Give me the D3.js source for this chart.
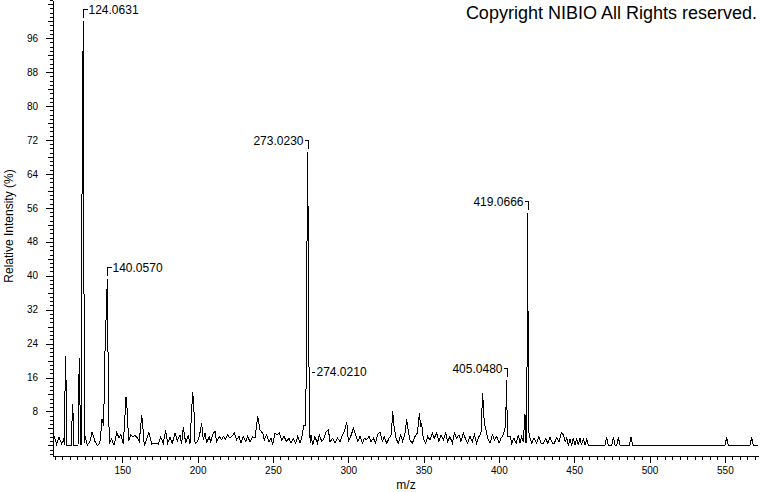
<!DOCTYPE html>
<html lang="en">

<head>
  <meta charset="UTF-8">
  <script src="https://d3js.org/d3.v7.min.js"></script>
  <title>Mass spectrum</title>
  <style>
    body { margin: 0; background: #fff; }
    text { font-family: Arial, "Liberation Sans", sans-serif; }
  </style>
</head>

<body>
  <svg width="760" height="492"></svg>
</body>
<script>
  // profile spectrum (m/z, relative intensity %)
  const mz = [
    104.2, 104.9, 106.4, 108.0, 109.8, 110.9, 111.7, 112.0, 112.4, 112.7, 113.0,
    116.3, 116.7, 117.1, 117.4, 117.8, 120.6, 121.1, 121.5, 121.8, 122.2, 122.6,
    123.1, 124.06, 124.35, 124.6, 125.0,
    125.4, 126.8, 128.6, 130.0, 131.8, 133.3, 134.6, 135.5, 136.5, 137.6, 138.5,
    140.06, 140.35, 140.7, 141.4, 143.0, 144.5, 146.3, 147.8, 149.1, 150.7, 152.5,
    153.2, 154.2, 155.6, 156.9, 158.4, 160.0, 161.3, 162.9, 163.5, 164.6, 166.2,
    167.7, 169.5, 171.0, 173.9, 175.5, 177.2, 178.8, 180.1, 181.7, 183.2, 185.0,
    186.5, 188.3, 189.4, 190.5, 192.1, 193.8, 194.9, 196.7, 197.4, 198.3,
    199.8, 201.1, 202.7, 203.8, 204.9, 206.0, 207.6, 208.7, 210.0, 211.5, 212.6,
    214.4, 216.0, 217.1, 218.6, 220.0, 221.5, 223.0, 224.4, 225.9, 227.5, 228.8,
    230.3, 231.9, 233.2, 234.8, 236.5, 238.1, 239.9, 241.4, 243.2, 244.3, 245.8,
    247.4, 248.7, 249.8, 251.4, 252.9, 254.2, 255.8, 257.3, 259.1, 260.7, 262.0,
    263.5, 265.1, 266.4, 268.0, 269.5, 270.4, 271.8, 273.02, 273.3, 273.6, 274.02,
    274.3, 274.7,
    275.3, 276.4, 277.9, 279.5, 280.8, 282.4, 283.9, 285.2, 286.8, 287.9, 289.7,
    291.2, 292.8, 294.5, 296.1, 297.4, 299.0, 300.1, 301.6, 303.4, 304.9, 306.3,
    307.8, 309.4, 310.7, 312.2, 313.8, 315.1, 316.7, 318.2, 319.5, 321.1, 322.6,
    323.9, 325.5, 327.1, 328.6, 329.5, 330.4, 331.7, 333.2, 334.8, 336.1, 337.7,
    338.8, 339.9, 341.0, 342.5, 344.3, 345.9, 347.2, 348.1, 348.7, 349.8, 351.4,
    352.7, 354.3, 355.8, 357.1, 358.7, 360.2, 361.6, 363.1, 364.7, 366.0, 367.5,
    369.1, 370.4, 372.0, 373.5, 374.8, 376.4, 377.9, 379.3, 380.8, 382.4, 383.7,
    385.2, 386.8, 388.1, 389.2, 390.3, 391.4, 392.6, 394.1, 395.7, 397.0, 398.5,
    400.1, 401.4, 402.9, 404.3, 404.75, 405.05, 405.35, 405.7, 407.4, 408.5, 410.0,
    411.4, 412.9, 414.0, 415.1, 416.2, 417.3, 418.0, 418.5, 418.8, 419.07, 419.35,
    419.6, 420.5, 421.8, 423.3, 425.1, 426.6, 428.0, 429.5, 431.1, 432.4, 434.0,
    435.5, 436.8, 438.4, 439.9, 441.5, 442.8, 444.0, 445.0, 446.1, 447.2, 448.3,
    449.4, 450.5, 451.6, 452.7, 453.8, 454.9, 456.1, 457.2, 458.3, 459.4,
    470.4, 471.5, 472.6, 474.9, 476.0, 477.1, 478.2, 479.3, 480.4, 486.6, 487.7,
    488.8, 550.1, 551.2, 552.3, 566.7, 567.8, 568.9, 572.0
  ];
  const intensity = [
    0.5, 2.1, 0.3, 1.9, 0.3, 1.3, 0.2, 14, 21, 14, 0,
    0, 7, 9.8, 6.5, 0, 0, 14, 20.5, 14, 0.3, 0.3,
    51, 100, 77, 32, 0.5,
    2.1, 0, 1.0, 3.2, 1.0, 0, 0.3, 1.5, 6.3, 4.6, 22,
    39.2, 30, 13, 0.5, 1.5, 0, 3.0, 1.8, 2.6, 0.3, 11.5,
    8.6, 1.0, 2.5, 2.0, 2.3, 1.8, 1.0, 7.2, 5.0, 0, 1.5,
    3.0, 0.3, 0.5, 0.3, 2.0, 0.5, 3.5, 0.5, 2.0, 0.5, 3.0,
    1.0, 2.5, 0.3, 4.3, 0.5, 2.5, 0.3, 12.6, 10, 0.5,
    0.8, 2.1, 5.2, 1.3, 2.9, 0.5, 2.1, 0.9, 2.5, 3.4, 0.9,
    2.1, 1.3, 2.1, 1.5, 2.5, 1.7, 2.3, 2.9, 1.3, 2.1, 0.6,
    2.1, 0.9, 2.1, 0.9, 2.1, 1.7, 6.8, 3.6, 2.9, 1.3, 2.5,
    0.9, 1.7, 0.1, 2.9, 2.5, 2.9, 1.3, 2.1, 0.9, 1.7, 0.5,
    1.7, 0.5, 2.1, 0.5, 2.5, 4.8, 4.8, 69.2, 55.5, 25.6, 17.3,
    5.8, 0.5,
    2.5, 0.1, 2.1, 0.5, 2.5, 0.9, 1.7, 3.2, 3.6, 0.9, 1.7,
    0.5, 1.7, 0.9, 2.5, 3.2, 5.6, 0.9, 2.1, 4.0, 2.5, 0.9,
    2.1, 0.5, 1.7, 1.3, 2.1, 0.9, 1.7, 0.6, 2.5, 3.2, 0.9,
    2.1, 0.5, 1.7, 2.5, 8.0, 4.4, 1.7, 0.5, 2.5, 0.9, 2.9,
    6.1, 3.3, 1.3, 0.5, 2.1, 2.9, 7.6, 4.4, 5.2, 1.7, 0.5,
    2.1, 1.3, 3.0, 1.7, 2.9, 0.9, 2.5, 1.3, 2.9, 0.9, 2.1,
    0.5, 2.9, 1.7, 2.5, 0.9, 2.9, 1.5, 0.5, 2.1, 0.9, 2.5,
    0.5, 2.1, 2.9, 12.4, 5.2, 3.6, 1.7, 0.5, 2.5, 1.3, 2.1,
    0.5, 1.7, 2.5, 4.4, 9.2, 15.4, 9.0, 2.0, 2.1, 0.5, 1.7,
    0.5, 2.5, 0.5, 2.1, 0.9, 7.5, 0.5, 3.6, 30, 54.8, 30,
    3.6, 2.0, 0.5, 1.7, 0.5, 2.1, 0.5, 0.5, 1.7, 0.5, 1.9,
    0.5, 0.5, 1.9, 0.9, 3.0, 2.5, 0.9, 1.7, 0.1, 1.5, 0.1,
    1.7, 0.1, 1.7, 0.1, 1.7, 0.1, 1.7, 0.1, 1.5, 0,
    0, 1.9, 0, 0, 1.9, 0, 0, 1.9, 0, 0, 1.9,
    0, 0, 1.9, 0, 0, 1.9, 0, 0
  ];

  // labelled peaks
  const peakMz = [124.0631, 140.0570, 273.0230, 274.0210, 405.0480, 419.0666];
  const peakInt = [100, 39.2, 69.2, 17.3, 15.4, 54.8];
  const peakSide = ["right", "right", "left", "side", "left", "left"];

  const yTicks = [8, 16, 24, 32, 40, 48, 56, 64, 72, 80, 88, 96];
  const xTicks = [150, 200, 250, 300, 350, 400, 450, 500, 550];

  const svg = d3.select("svg");

  const x = d3.scaleLinear().domain([104, 572]).range([53, 758]);
  const y = d3.scaleLinear().domain([-2.5, 105]).range([456, 0]);

  /**
   * y axis: labelled ticks every 8, medium every 4, small every 1
   */
  const yMedium = d3.range(0, 105, 4).filter(v => !yTicks.includes(v));
  const yMinor = d3.range(-2, 106).filter(v => v % 4 !== 0);

  svg.append("g")
    .attr("transform", "translate(53,0)")
    .call(d3.axisLeft(y).tickValues(yMinor).tickSize(3).tickFormat("").tickSizeOuter(0))
    .call(g => g.select(".domain").remove());
  svg.append("g")
    .attr("transform", "translate(53,0)")
    .call(d3.axisLeft(y).tickValues(yMedium).tickSize(5).tickFormat("").tickSizeOuter(0))
    .call(g => g.select(".domain").remove());
  svg.append("g")
    .attr("class", "axis--y")
    .attr("transform", "translate(53,0)")
    .attr("font-size", 12)
    .attr("font-family", "Arial, 'Liberation Sans', sans-serif")
    .call(d3.axisLeft(y).tickValues(yTicks).tickSize(7).tickPadding(8).tickSizeOuter(0));

  /**
   * x axis
   */
  const xMinor = d3.range(105, 572, 5).filter(v => v % 50 !== 0);

  svg.append("g")
    .attr("transform", "translate(0,456)")
    .call(d3.axisBottom(x).tickValues(xMinor).tickSize(4).tickFormat("").tickSizeOuter(0))
    .call(g => g.select(".domain").remove());
  svg.append("g")
    .attr("class", "axis--x")
    .attr("transform", "translate(0,456)")
    .attr("font-size", 12)
    .attr("font-family", "Arial, 'Liberation Sans', sans-serif")
    .call(d3.axisBottom(x).tickValues(xTicks).tickSize(7).tickPadding(3.5).tickSizeOuter(0));

  svg.selectAll(".tick line, .domain").attr("shape-rendering", "crispEdges");

  // axis titles
  svg.append("text")
    .attr("x", 406)
    .attr("y", 489)
    .attr("text-anchor", "middle")
    .style("font-size", "12px")
    .text("m/z");

  svg.append("text")
    .attr("transform", "translate(13,226) rotate(-90)")
    .attr("text-anchor", "middle")
    .style("font-size", "12px")
    .text("Relative Intensity (%)");

  /**
   * spectrum
   */
  const line = d3.line()
    .x(d => x(d[0]))
    .y(d => y(d[1]));

  svg.append("path")
    .datum(d3.zip(mz, intensity))
    .attr("d", line)
    .attr("fill", "none")
    .attr("stroke", "black")
    .attr("stroke-width", 1)
    .attr("shape-rendering", "crispEdges");

  /**
   * peak labels
   */
  const fmt = d3.format(".4f");
  const labels = svg.append("g").attr("class", "peak-labels");

  peakMz.forEach((m, i) => {
    const px = Math.round(x(m)) + 0.5;
    const py = Math.round(y(peakInt[i]));
    const side = peakSide[i];
    let d, tx, ty, anchor;
    if (side === "side") {
      d = `M${px + 2},${py + 0.5}H${px + 5}`;
      tx = px + 7; ty = py; anchor = "start";
    } else {
      const dir = side === "right" ? 1 : -1;
      const yb = py - 12 + 0.5;
      d = `M${px},${py - 3}V${yb}H${px + dir * 4}`;
      tx = px + dir * 5; ty = yb; anchor = dir === 1 ? "start" : "end";
    }
    labels.append("path")
      .attr("d", d)
      .attr("fill", "none")
      .attr("stroke", "black")
      .attr("shape-rendering", "crispEdges");
    labels.append("text")
      .attr("x", tx)
      .attr("y", ty)
      .attr("dy", "0.35em")
      .attr("text-anchor", anchor)
      .style("font-size", "12px")
      .text(fmt(m));
  });

  // copyright line
  svg.append("text")
    .attr("x", 757)
    .attr("y", 19)
    .attr("text-anchor", "end")
    .style("font-size", "18px")
    .text("Copyright NIBIO All Rights reserved.");
</script>

</html>
